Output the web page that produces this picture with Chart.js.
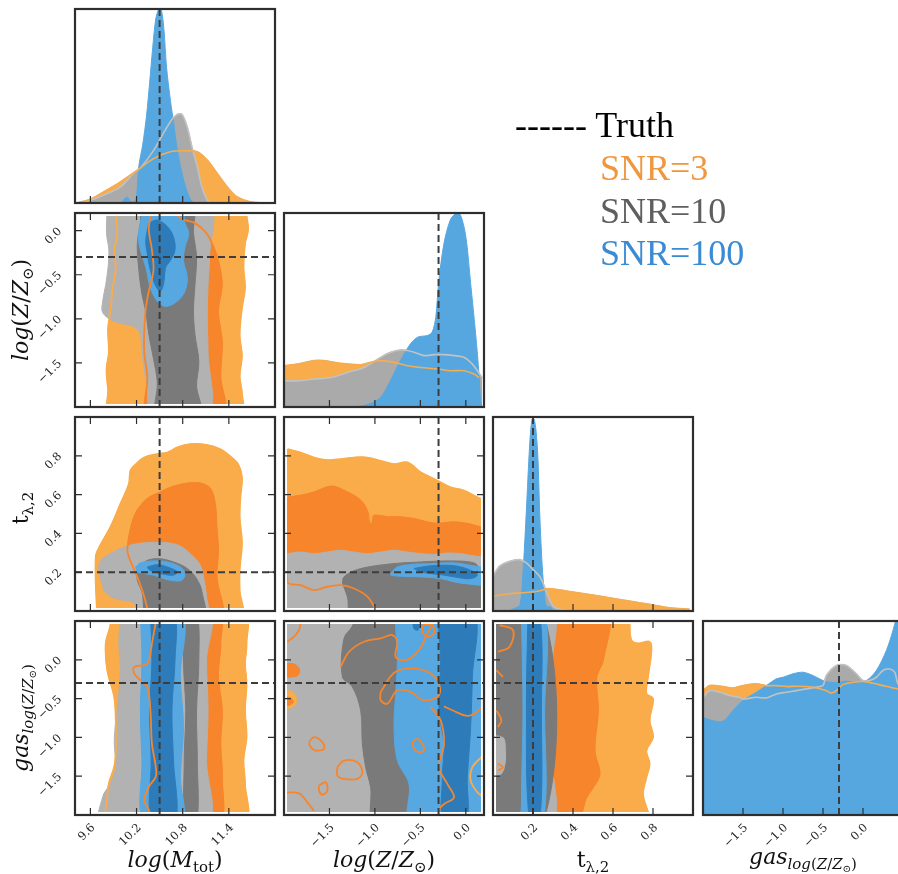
<!DOCTYPE html>
<html>
<head>
<meta charset="utf-8">
<script src="https://cdn.jsdelivr.net/npm/chart.js@4/dist/chart.umd.min.js"></script>
<style>
  html, body { margin: 0; padding: 0; background: #fff; overflow: hidden; width: 898px; height: 874px; }
  #stage { position: relative; width: 898px; height: 874px; overflow: hidden; }
  #stage canvas { position: absolute; left: 0; top: 0; }
  .ttl { position: absolute; font-family: "DejaVu Serif", serif; font-size: 22px; line-height: 1; white-space: nowrap; color: #111; }
  .ttl i { font-style: italic; }
  .ttl .sb { font-size: 0.68em; position: relative; top: 0.34em; }
  .ttl .sb .sb { top: 0.25em; }
  .leg { position: absolute; font-family: "Liberation Serif", serif; font-size: 36px; line-height: 1; white-space: nowrap; }
</style>
</head>
<body>
<div id="stage"></div>
<script>
// ---- parameters, axis ranges, ticks and true values ----
const massRange  = [9.4, 12.0];
const metalRange = [-2.0, 0.2];
const timeRange  = [0.0, 1.0];
const gasRange   = [-2.0, 0.5];

const massTicks  = [9.6, 10.2, 10.8, 11.4];
const metalTicks = [-1.5, -1.0, -0.5, 0.0];
const timeTicks  = [0.2, 0.4, 0.6, 0.8];
const gasTicks   = [-1.5, -1.0, -0.5, 0.0];

const truthMass = 10.5, truthMetal = -0.3, truthTime = 0.2, truthGas = -0.3;

const seriesNames  = ['SNR=3', 'SNR=10', 'SNR=100'];
const seriesColors = ['#f0963c', '#5f5f5f', '#3a8bd3'];
const truthLabel   = '------ Truth';

// ---- 1D marginal densities (scaled so the tallest peak is 1) ----
const massOrange1D = [[9.42,0],[9.60,0.02],[9.77,0.057],[9.99,0.109],[10.21,0.169],[10.42,0.229],[10.64,0.264],[10.82,0.269],[10.99,0.264],[11.12,0.221],[11.25,0.152],[11.38,0.083],[11.51,0.031],[11.69,0.005],[11.95,0]];
const massGrey1D   = [[9.47,0],[9.60,0.014],[9.77,0.04],[9.99,0.083],[10.16,0.152],[10.25,0.18],[10.42,0.27],[10.55,0.36],[10.66,0.43],[10.73,0.457],[10.79,0.457],[10.86,0.39],[10.92,0.29],[10.99,0.186],[11.05,0.083],[11.12,0.014],[11.16,0]];
const massBlue1D   = [[10.0,0],[10.04,0.02],[10.08,0.03],[10.12,0.01],[10.18,0.01],[10.20,0.03],[10.23,0.19],[10.28,0.30],[10.33,0.45],[10.37,0.62],[10.41,0.80],[10.45,0.95],[10.49,1.0],[10.52,1.0],[10.555,0.90],[10.59,0.70],[10.64,0.53],[10.68,0.42],[10.72,0.30],[10.77,0.19],[10.84,0.08],[10.90,0.02],[10.95,0]];

const metalOrange1D = [[-2.0,0.213],[-1.853,0.221],[-1.67,0.239],[-1.56,0.239],[-1.377,0.225],[-1.157,0.218],[-1.047,0.23],[-0.937,0.239],[-0.79,0.23],[-0.643,0.213],[-0.497,0.204],[-0.313,0.196],[-0.167,0.187],[-0.02,0.187],[0.09,0.17],[0.145,0.152]];
const metalGrey1D   = [[-2.0,0.135],[-1.853,0.135],[-1.67,0.144],[-1.487,0.152],[-1.303,0.178],[-1.12,0.204],[-0.937,0.256],[-0.827,0.282],[-0.717,0.294],[-0.643,0.291],[-0.57,0.282],[-0.46,0.265],[-0.35,0.27],[-0.24,0.27],[-0.13,0.265],[-0.02,0.256],[0.072,0.221],[0.127,0.187],[0.18,0.15]];
const metalBlue1D   = [[-1.27,0],[-1.1,0.01],[-0.94,0.048],[-0.83,0.135],[-0.72,0.239],[-0.61,0.325],[-0.53,0.36],[-0.42,0.369],[-0.37,0.386],[-0.33,0.464],[-0.30,0.637],[-0.24,0.844],[-0.17,0.965],[-0.11,0.997],[-0.06,0.991],[0.0,0.879],[0.053,0.637],[0.108,0.377],[0.145,0.17],[0.163,0.031],[0.18,0]];

const timeOrange1D = [[0,0.077],[0.083,0.089],[0.15,0.094],[0.233,0.103],[0.275,0.116],[0.367,0.103],[0.483,0.085],[0.583,0.068],[0.683,0.051],[0.783,0.034],[0.883,0.017],[0.983,0.009]];
const timeGrey1D   = [[0,0.179],[0.033,0.231],[0.083,0.256],[0.133,0.265],[0.167,0.248],[0.2,0.214],[0.233,0.179],[0.25,0.145],[0.275,0.077],[0.3,0.026],[0.333,0.009],[0.4,0.003],[0.483,0]];
const timeBlue1D   = [[0.08,0],[0.11,0.015],[0.135,0.03],[0.15,0.2],[0.167,0.52],[0.183,0.85],[0.195,0.99],[0.205,0.99],[0.215,0.93],[0.225,0.78],[0.233,0.52],[0.24,0.35],[0.248,0.2],[0.258,0.077],[0.267,0.026],[0.29,0.02],[0.30,0]];

const gasOrange1D = [[-2.0,0.641],[-1.917,0.667],[-1.75,0.662],[-1.625,0.655],[-1.5,0.667],[-1.333,0.676],[-1.208,0.667],[-1.083,0.667],[-0.958,0.662],[-0.833,0.664],[-0.708,0.662],[-0.583,0.655],[-0.458,0.641],[-0.396,0.628],[-0.333,0.641],[-0.25,0.672],[-0.125,0.684],[0.0,0.688],[0.125,0.679],[0.25,0.667],[0.375,0.655],[0.5,0.645]];
const gasGrey1D   = [[-2.0,0.607],[-1.917,0.641],[-1.792,0.633],[-1.667,0.616],[-1.542,0.607],[-1.5,0.598],[-1.333,0.607],[-1.208,0.603],[-1.083,0.624],[-0.958,0.633],[-0.833,0.641],[-0.708,0.65],[-0.583,0.659],[-0.5,0.667],[-0.458,0.719],[-0.333,0.771],[-0.208,0.771],[-0.083,0.728],[0.0,0.693],[0.083,0.693],[0.167,0.71],[0.25,0.745],[0.333,0.753],[0.396,0.736],[0.4375,0.676],[0.5,0.66]];
const gasBlue1D   = [[-2.0,0.503],[-1.875,0.486],[-1.75,0.483],[-1.625,0.538],[-1.5,0.59],[-1.333,0.633],[-1.208,0.667],[-1.083,0.702],[-1.0,0.71],[-0.875,0.728],[-0.75,0.736],[-0.625,0.719],[-0.5,0.693],[-0.417,0.684],[-0.292,0.684],[-0.208,0.69],[-0.083,0.684],[0.042,0.693],[0.167,0.745],[0.292,0.848],[0.375,0.952],[0.4375,1.055],[0.5,1.2]];

// ---- 2D credible regions (outer = 2 sigma, inner = 1 sigma) ----
// log(Z/Zsun) vs log(Mtot)
const mzOrange2 = [[9.93,0.3],[9.93,0.18],[9.95,-0.03],[9.91,-0.22],[9.93,-0.415],[9.89,-0.65],[9.86,-0.915],[9.83,-1.11],[9.84,-1.38],[9.81,-1.57],[9.83,-1.80],[9.86,-2.1],[11.55,-2.1],[11.57,-1.84],[11.54,-1.65],[11.57,-1.42],[11.54,-1.18],[11.57,-0.88],[11.61,-0.65],[11.59,-0.415],[11.61,-0.146],[11.65,0.008],[11.63,0.18],[11.63,0.3]];
const mzOrange1 = [[10.38,0.3],[10.70,0.3],[10.72,0.18],[10.83,0.12],[10.96,0.085],[11.11,-0.03],[11.20,-0.185],[11.26,-0.34],[11.31,-0.61],[11.26,-0.915],[11.31,-1.26],[11.29,-1.65],[11.32,-2.1],[10.36,-2.1],[10.34,-1.65],[10.30,-1.38],[10.30,-1.15],[10.32,-0.88],[10.36,-0.685],[10.42,-0.45],[10.40,-0.22],[10.36,0.008],[10.38,0.18]];
const mzGrey2   = [[9.82,0.3],[11.13,0.3],[11.15,-0.30],[11.13,-0.61],[11.12,-0.99],[11.13,-1.38],[11.13,-2.1],[10.40,-2.1],[10.34,-1.80],[10.27,-1.38],[10.25,-1.18],[10.17,-1.09],[9.91,-1.03],[9.76,-0.93],[9.76,-0.80],[9.80,-0.61],[9.83,-0.415],[9.84,-0.22],[9.81,-0.03]];
const mzGrey1   = [[10.25,0.3],[10.92,0.3],[10.94,-0.03],[10.98,-0.30],[10.96,-0.61],[10.94,-0.915],[10.96,-1.18],[11.01,-1.49],[10.98,-1.76],[11.03,-2.1],[10.47,-2.1],[10.47,-1.72],[10.42,-1.45],[10.36,-1.18],[10.32,-0.915],[10.27,-0.72],[10.23,-0.45],[10.21,-0.146],[10.25,0.085]];
const mzBlue2   = [[10.30,0.3],[10.77,0.3],[10.83,0.085],[10.88,-0.03],[10.83,-0.185],[10.81,-0.34],[10.86,-0.53],[10.83,-0.685],[10.73,-0.80],[10.58,-0.86],[10.47,-0.80],[10.38,-0.65],[10.32,-0.415],[10.25,-0.22],[10.22,-0.07],[10.24,0.046]];
const mzBlue1   = [[10.36,0.085],[10.47,0.12],[10.60,0.046],[10.68,-0.07],[10.70,-0.22],[10.64,-0.34],[10.58,-0.415],[10.55,-0.61],[10.51,-0.685],[10.45,-0.63],[10.38,-0.45],[10.34,-0.26],[10.32,-0.11]];

// t_lambda,2 vs log(Mtot)
const mtOrange2 = [[9.69,-0.05],[9.67,0.279],[9.74,0.347],[9.86,0.432],[9.99,0.552],[10.10,0.655],[10.12,0.723],[10.17,0.749],[10.30,0.791],[10.47,0.809],[10.60,0.817],[10.73,0.843],[10.90,0.86],[11.11,0.856],[11.29,0.834],[11.41,0.80],[11.52,0.757],[11.57,0.689],[11.55,0.586],[11.54,0.484],[11.57,0.35],[11.54,0.21],[11.54,0.108],[11.55,-0.05]];
const mtOrange1 = [[10.38,-0.05],[10.30,0.074],[10.21,0.176],[10.10,0.279],[10.08,0.321],[10.14,0.45],[10.21,0.518],[10.34,0.578],[10.51,0.612],[10.68,0.641],[10.86,0.658],[11.03,0.658],[11.16,0.629],[11.22,0.552],[11.24,0.432],[11.26,0.313],[11.24,0.176],[11.29,-0.05]];
const mtGrey2   = [[9.78,0.099],[9.71,0.21],[9.74,0.262],[9.86,0.296],[10.04,0.33],[10.21,0.347],[10.42,0.354],[10.64,0.35],[10.79,0.33],[10.92,0.287],[11.03,0.236],[11.08,0.159],[11.11,0.074],[11.12,-0.05],[10.25,-0.05],[10.17,0.039],[9.91,0.065]];
const mtGrey1   = [[10.21,0.21],[10.30,0.253],[10.47,0.27],[10.68,0.253],[10.86,0.219],[10.98,0.167],[11.05,0.099],[11.07,-0.05],[10.36,-0.05],[10.27,0.099],[10.21,0.159]];
const mtBlue2   = [[10.19,0.227],[10.25,0.248],[10.42,0.258],[10.60,0.253],[10.77,0.227],[10.83,0.193],[10.79,0.159],[10.68,0.156],[10.55,0.167],[10.42,0.185],[10.30,0.193],[10.21,0.202]];
const mtBlue1   = [[10.34,0.227],[10.47,0.239],[10.60,0.227],[10.73,0.202],[10.68,0.185],[10.55,0.19],[10.42,0.202],[10.36,0.214]];

// gas log(Z/Zsun) vs log(Mtot)
const mgOrange2 = [[9.86,0.6],[9.86,0.444],[9.80,0.208],[9.82,-0.135],[9.91,-0.478],[9.93,-0.778],[9.93,-1.164],[9.91,-1.378],[9.84,-1.593],[9.82,-1.764],[9.84,-2.1],[11.59,-2.1],[11.61,-1.593],[11.59,-1.292],[11.63,-0.992],[11.61,-0.649],[11.63,-0.306],[11.61,-0.049],[11.63,0.208],[11.59,0.6]];
const mgOrange1 = [[10.47,0.6],[10.40,0.208],[10.34,-0.049],[10.17,-0.092],[10.17,-0.178],[10.25,-0.263],[10.34,-0.349],[10.38,-0.649],[10.40,-1.078],[10.45,-1.378],[10.45,-1.507],[10.36,-1.636],[10.30,-1.807],[10.34,-1.893],[10.47,-2.1],[11.26,-2.1],[11.31,-1.507],[11.29,-1.078],[11.31,-0.649],[11.26,-0.22],[11.29,0.208],[11.26,0.6]];
const mgGrey2   = [[9.99,0.6],[9.97,0.208],[9.99,-0.092],[9.97,-0.435],[9.93,-0.778],[9.91,-1.078],[9.93,-1.378],[9.86,-1.593],[9.76,-1.764],[9.74,-2.1],[11.11,-2.1],[11.11,-1.292],[11.13,-0.649],[11.11,-0.006],[11.13,0.6]];
const mgGrey1   = [[10.83,0.6],[10.81,-0.006],[10.84,-0.649],[10.82,-1.292],[10.84,-2.1],[10.98,-2.1],[10.99,-1.292],[10.98,-0.649],[11.01,-0.006],[10.98,0.6]];
const mgBlue2   = [[10.25,0.6],[10.27,-0.006],[10.25,-0.649],[10.27,-1.292],[10.30,-2.1],[10.79,-2.1],[10.77,-1.507],[10.81,-0.864],[10.77,-0.22],[10.79,0.6]];
const mgBlue1   = [[10.38,0.6],[10.40,-0.006],[10.37,-0.649],[10.39,-1.292],[10.40,-2.1],[10.70,-2.1],[10.68,-1.292],[10.66,-0.649],[10.70,-0.006],[10.68,0.6]];

// t_lambda,2 vs log(Z/Zsun)
const ztOrange2 = [[-1.96,0.834],[-1.817,0.817],[-1.67,0.791],[-1.523,0.778],[-1.377,0.783],[-1.23,0.791],[-1.083,0.791],[-0.937,0.774],[-0.79,0.757],[-0.643,0.766],[-0.497,0.715],[-0.387,0.689],[-0.277,0.663],[-0.167,0.638],[-0.02,0.621],[0.09,0.595],[0.17,0.578],[0.3,0.57],[0.3,-0.05],[-1.96,-0.05]];
const ztOrange1 = [[-1.96,0.586],[-1.817,0.595],[-1.67,0.612],[-1.523,0.638],[-1.45,0.641],[-1.303,0.612],[-1.157,0.569],[-1.08,0.51],[-1.065,0.46],[-1.04,0.445],[-1.02,0.47],[-1.01,0.492],[-0.863,0.484],[-0.717,0.484],[-0.57,0.475],[-0.423,0.458],[-0.313,0.45],[-0.13,0.458],[0.017,0.45],[0.17,0.432],[0.3,0.43],[0.3,-0.05],[-0.95,-0.05],[-1.01,0.022],[-1.083,0.074],[-1.23,0.116],[-1.377,0.133],[-1.523,0.125],[-1.67,0.108],[-1.817,0.133],[-1.96,0.15]];
const ztGrey2   = [[-1.96,0.296],[-1.817,0.304],[-1.67,0.296],[-1.523,0.304],[-1.377,0.313],[-1.23,0.304],[-1.083,0.296],[-0.937,0.304],[-0.79,0.313],[-0.643,0.304],[-0.497,0.296],[-0.35,0.292],[-0.203,0.299],[-0.057,0.296],[0.053,0.287],[0.17,0.279],[0.3,0.279],[0.3,-0.05],[-1.96,-0.05]];
const ztGrey1   = [[-1.358,0.142],[-1.34,0.176],[-1.193,0.214],[-0.863,0.241],[-0.497,0.253],[-0.13,0.258],[0.09,0.248],[0.17,0.219],[0.3,0.21],[0.3,-0.05],[-1.24,-0.05],[-1.303,0.074]];
const ztBlue2   = [[-0.827,0.193],[-0.753,0.227],[-0.57,0.241],[-0.387,0.244],[-0.13,0.248],[0.053,0.236],[0.17,0.227],[0.3,0.227],[0.3,0.133],[0.17,0.133],[-0.02,0.142],[-0.13,0.15],[-0.277,0.167],[-0.497,0.176],[-0.717,0.179],[-0.827,0.185]];
const ztBlue1   = [[-0.57,0.219],[-0.423,0.231],[-0.24,0.236],[-0.093,0.231],[0.053,0.21],[0.127,0.185],[0.053,0.167],[-0.093,0.173],[-0.24,0.185],[-0.387,0.193],[-0.497,0.202]];

// gas log(Z/Zsun) vs log(Z/Zsun)
const zgGrey2 = [[-2.1,0.6],[0.3,0.6],[0.3,-2.1],[-2.1,-2.1]];
const zgGrey1 = [[-1.2,0.6],[-0.72,0.6],[-0.72,-0.005],[-0.72,-0.436],[-0.74,-0.867],[-0.70,-1.298],[-0.57,-1.6],[-0.55,-2.1],[-1.01,-2.1],[-1.047,-1.643],[-1.102,-1.384],[-1.138,-1.083],[-1.157,-0.651],[-1.248,-0.349],[-1.358,-0.22],[-1.34,0.276],[-1.25,0.43]];
const zgBlue2 = [[-0.772,0.6],[0.15,0.6],[0.15,-2.1],[-0.607,-2.1],[-0.625,-1.6],[-0.753,-1.298],[-0.79,-0.867],[-0.772,-0.436],[-0.753,-0.005],[-0.772,0.427]];
const zgBlue1 = [[-0.313,0.6],[0.09,0.6],[0.072,-0.22],[0.053,-0.867],[0.017,-1.514],[-0.002,-2.1],[-0.24,-2.1],[-0.258,-1.514],[-0.24,-1.083],[-0.295,-0.651],[-0.277,-0.005]];
const zgBlue1b = [[-0.588,0.6],[-0.5,0.6],[-0.52,0.39],[-0.57,0.40]];
const zgOrangeIslandLight = [[-2.05,-0.38],[-1.90,-0.42],[-1.86,-0.53],[-1.93,-0.62],[-2.05,-0.60]];
const zgOrangeIslandDark  = [[-2.05,-0.06],[-1.90,-0.05],[-1.83,-0.12],[-1.86,-0.21],[-2.05,-0.20]];
const zgOrangeIslandDark2 = [[-2.05,-0.47],[-1.93,-0.49],[-1.90,-0.55],[-1.96,-0.59],[-2.05,-0.57]];
const zgOrangeOpen = [
  [[-1.963,0.233],[-1.89,0.297],[-1.835,0.384],[-1.817,0.47]],
  [[-1.377,-0.091],[-1.285,0.103],[-1.12,0.233],[-0.937,0.276],[-0.808,0.319],[-0.753,0.233],[-0.772,0.039],[-0.662,-0.005],[-0.515,0.125],[-0.423,0.34],[-0.368,0.448]],
  [[-0.387,-0.608],[-0.277,-0.781],[-0.24,-1.083],[-0.295,-1.384],[-0.203,-1.6],[-0.13,-1.772],[-0.24,-1.859],[-0.313,-1.945]],
  [[-1.98,-1.708],[-1.835,-1.721],[-1.743,-1.837],[-1.67,-1.945]],
  [[-0.24,-0.6],[-0.13,-0.66],[0.0,-0.72],[0.09,-0.7],[0.17,-0.62]]
];
const zgPaleOpen = [[0.17,-1.255],[0.072,-1.384],[0.053,-1.557],[0.127,-1.708],[0.17,-1.75]];
const zgOrangeLoops = [
  [[-0.937,-0.414],[-0.772,-0.155],[-0.497,-0.124],[-0.313,-0.263],[-0.295,-0.457],[-0.46,-0.522],[-0.607,-0.414],[-0.753,-0.393],[-0.863,-0.565],[-0.937,-0.522]],
  [[-1.725,-1.061],[-1.67,-0.996],[-1.578,-1.061],[-1.56,-1.147],[-1.652,-1.169],[-1.707,-1.126]],
  [[-1.413,-1.384],[-1.34,-1.298],[-1.193,-1.32],[-1.138,-1.449],[-1.193,-1.535],[-1.34,-1.535],[-1.413,-1.492]],
  [[-1.615,-1.622],[-1.542,-1.578],[-1.523,-1.686],[-1.578,-1.738],[-1.615,-1.686]],
  [[-0.588,-1.061],[-0.533,-1.018],[-0.478,-1.083],[-0.46,-1.169],[-0.515,-1.19],[-0.57,-1.147]],
  [[-0.478,0.448],[-0.368,0.448],[-0.35,0.34],[-0.423,0.297],[-0.478,0.362]]
];

// gas log(Z/Zsun) vs t_lambda,2
const tgOrange2 = [[-0.1,0.6],[0.683,0.6],[0.683,0.448],[0.692,0.254],[0.725,0.211],[0.783,0.233],[0.792,0.125],[0.775,-0.22],[0.767,-0.436],[0.8,-0.5],[0.783,-0.781],[0.8,-0.996],[0.767,-1.169],[0.783,-1.341],[0.767,-1.514],[0.75,-1.729],[0.767,-2.1],[-0.1,-2.1]];
const tgOrange1 = [[-0.1,0.6],[0.558,0.6],[0.55,-0.005],[0.517,-0.22],[0.525,-0.651],[0.508,-1.169],[0.533,-1.471],[0.5,-1.643],[0.467,-1.772],[0.408,-2.1],[-0.1,-2.1]];
const tgGrey2   = [[-0.1,0.6],[0.292,0.6],[0.298,0.0],[0.29,-0.65],[0.295,-1.3],[0.29,-2.1],[-0.1,-2.1]];
const tgGrey1   = [[-0.1,0.6],[0.25,0.6],[0.25,-2.1],[-0.1,-2.1],[-0.1,-1.52],[0.03,-1.50],[0.06,-1.40],[0.067,-1.17],[0.05,-0.99],[-0.1,-0.91]];
const tgBlue2   = [[0.142,0.6],[0.258,0.6],[0.258,-0.651],[0.25,-2.1],[0.15,-2.1],[0.142,-1.86],[0.15,-0.651]];
const tgBlue1   = [[0.175,0.6],[0.233,0.6],[0.242,-0.651],[0.233,-2.1],[0.183,-2.1],[0.167,-0.651]];
const tgOrangeOpen = [
  [[0.033,0.448],[0.1,0.384],[0.083,0.168],[0.025,0.103]],
  [[0.017,-0.134],[0.05,-0.22]],
  [[0.017,-0.651],[0.042,-0.781],[0.025,-0.867]],
  [[0.025,-1.341],[0.05,-1.384],[0.025,-1.427]]
];

// ---- styling ----
const C = {
  o2: '#faac4a', o1: '#f7852c', g2: '#b2b2b2', g1: '#7a7a7a', b2: '#57a8e1', b1: '#2e7bba',
  oHist: '#f9ac4b', gHist: '#aaaaaa', bHist: '#56a7e0', oTrace: '#f4ad52', gTrace: '#c2c2c2',
  truth: '#3d3d3d', frame: '#2e2e2e', tickText: '#222222'
};

const ranges   = [massRange, metalRange, timeRange, gasRange];
const tickSets = [massTicks, metalTicks, timeTicks, gasTicks];
const truths   = [truthMass, truthMetal, truthTime, truthGas];

// panel grid in page pixels
const colLeft = [75, 284, 493, 703];
const rowTop  = [9, 213, 417, 621];
const PW = 200, PH = 194;
const CW = 910, CH = 874;

const pts = arr => arr.map(([x, y]) => ({x, y}));
const closed = arr => arr.concat([arr[0]]);

function area(arr, color) {
  return {data: pts(closed(arr)), showLine: true, fill: 'shape', backgroundColor: color, borderColor: color,
          borderWidth: 1, pointRadius: 0, tension: 0.35};
}
function edge(arr, color, isClosed = true, width = 1.8) {
  return {data: pts(isClosed ? closed(arr) : arr), showLine: true, fill: false, borderColor: color,
          backgroundColor: color, borderWidth: width, pointRadius: 0, tension: 0.35};
}
function curve(arr, color) {
  return {data: pts(arr), showLine: true, fill: 'origin', backgroundColor: color, borderColor: color,
          borderWidth: 1, pointRadius: 0, tension: 0.3};
}
function trace(arr, color) {
  return {data: pts(arr), showLine: true, fill: false, borderColor: color, borderWidth: 1.6,
          pointRadius: 0, tension: 0.3};
}

const fmt = v => (v < 0 ? '\u2212' : '') + Math.abs(v).toFixed(1);

function framePlugin(r, c, diag) {
  return {
    id: 'panelFrame',
    afterDatasetsDraw(chart) {
      const {ctx, chartArea: a, scales: {x, y}} = chart;
      const w = a.right - a.left, h = a.bottom - a.top;
      ctx.save();
      if (!diag) {
        const m = 3;
        ctx.fillStyle = '#ffffff';
        ctx.fillRect(a.left, a.top, w, m);
        ctx.fillRect(a.left, a.bottom - m, w, m);
        ctx.fillRect(a.left, a.top, m, h);
        ctx.fillRect(a.right - m, a.top, m, h);
      }
      // true parameter values
      ctx.strokeStyle = C.truth; ctx.lineWidth = 2; ctx.setLineDash([7, 4]);
      ctx.beginPath();
      const tx = x.getPixelForValue(truths[c]);
      ctx.moveTo(tx, a.top); ctx.lineTo(tx, a.bottom);
      if (!diag) {
        const ty = y.getPixelForValue(truths[r]);
        ctx.moveTo(a.left, ty); ctx.lineTo(a.right, ty);
      }
      ctx.stroke();
      ctx.setLineDash([]);
      // inward tick marks
      const TL = 7;
      ctx.strokeStyle = C.frame; ctx.lineWidth = 1.2;
      ctx.beginPath();
      tickSets[c].forEach(v => {
        const px = x.getPixelForValue(v);
        ctx.moveTo(px, a.bottom); ctx.lineTo(px, a.bottom - TL);
        if (!diag) { ctx.moveTo(px, a.top); ctx.lineTo(px, a.top + TL); }
      });
      if (!diag) {
        tickSets[r].forEach(v => {
          const py = y.getPixelForValue(v);
          ctx.moveTo(a.left, py); ctx.lineTo(a.left + TL, py);
          ctx.moveTo(a.right, py); ctx.lineTo(a.right - TL, py);
        });
      }
      ctx.stroke();
      // frame
      ctx.lineWidth = 2.2;
      ctx.strokeRect(a.left, a.top, w, h);
      // tick labels
      ctx.fillStyle = C.tickText;
      ctx.font = '11.5px "DejaVu Serif"';
      ctx.textAlign = 'right';
      ctx.textBaseline = 'middle';
      if (r === 3) {
        tickSets[c].forEach(v => {
          const px = x.getPixelForValue(v);
          ctx.save(); ctx.translate(px + 3, a.bottom + 11); ctx.rotate(-Math.PI / 4);
          ctx.fillText(fmt(v), 0, 0); ctx.restore();
        });
      }
      if (c === 0 && r > 0) {
        tickSets[r].forEach(v => {
          const py = y.getPixelForValue(v);
          ctx.save(); ctx.translate(a.left - 15, py - 1); ctx.rotate(-Math.PI / 4);
          ctx.fillText(fmt(v), 0, 0); ctx.restore();
        });
      }
      ctx.restore();
    }
  };
}

const stage = document.getElementById('stage');

function makePanel(r, c, datasets) {
  const diag = r === c;
  const cv = document.createElement('canvas');
  cv.width = CW; cv.height = CH;
  cv.style.width = CW + 'px'; cv.style.height = CH + 'px';
  stage.appendChild(cv);
  const L = colLeft[c], T = rowTop[r];
  // later entries paint on top
  datasets.forEach((d, i) => { d.order = datasets.length - i; });
  return new Chart(cv.getContext('2d'), {
    type: 'scatter',
    data: {datasets},
    options: {
      responsive: false, maintainAspectRatio: false, animation: false, devicePixelRatio: 1, events: [],
      layout: {padding: {left: L, top: T, right: CW - L - PW, bottom: CH - T - PH}},
      scales: {
        x: {type: 'linear', display: false, min: ranges[c][0], max: ranges[c][1]},
        y: {type: 'linear', display: false, min: diag ? 0 : ranges[r][0], max: diag ? 1 : ranges[r][1]}
      },
      plugins: {legend: {display: false}, tooltip: {enabled: false}}
    },
    plugins: [framePlugin(r, c, diag)]
  });
}

function marginal(i, orange, grey, blue) {
  makePanel(i, i, [
    curve(orange, C.oHist), curve(grey, C.gHist), curve(blue, C.bHist),
    trace(grey, C.gTrace), trace(orange, C.oTrace)
  ]);
}

function joint(r, c, s, extraBelow = [], extraAbove = []) {
  const sets = [];
  if (s.o2) sets.push(area(s.o2, C.o2));
  if (s.o1) sets.push(area(s.o1, C.o1));
  sets.push(area(s.g2, C.g2), area(s.g1, C.g1));
  sets.push(...extraBelow);
  sets.push(area(s.b2, C.b2), area(s.b1, C.b1));
  if (s.o2) sets.push(edge(s.o2, C.o2));
  if (s.o1) sets.push(edge(s.o1, C.o1));
  sets.push(...extraAbove);
  makePanel(r, c, sets);
}

// diagonal
marginal(0, massOrange1D, massGrey1D, massBlue1D);
marginal(1, metalOrange1D, metalGrey1D, metalBlue1D);
marginal(2, timeOrange1D, timeGrey1D, timeBlue1D);
marginal(3, gasOrange1D, gasGrey1D, gasBlue1D);

// lower triangle
joint(1, 0, {o2: mzOrange2, o1: mzOrange1, g2: mzGrey2, g1: mzGrey1, b2: mzBlue2, b1: mzBlue1});
joint(2, 0, {o2: mtOrange2, o1: mtOrange1, g2: mtGrey2, g1: mtGrey1, b2: mtBlue2, b1: mtBlue1});
joint(3, 0, {o2: mgOrange2, o1: mgOrange1, g2: mgGrey2, g1: mgGrey1, b2: mgBlue2, b1: mgBlue1});
joint(2, 1, {o2: ztOrange2, o1: ztOrange1, g2: ztGrey2, g1: ztGrey1, b2: ztBlue2, b1: ztBlue1});
joint(3, 1, {g2: zgGrey2, g1: zgGrey1, b2: zgBlue2, b1: zgBlue1},
  [area(zgOrangeIslandLight, C.o2), area(zgOrangeIslandDark, C.o1), area(zgOrangeIslandDark2, C.o1)],
  [area(zgBlue1b, C.b1), edge(zgPaleOpen, C.o2, false)]
    .concat(zgOrangeLoops.map(l => edge(l, C.o1, true)))
    .concat(zgOrangeOpen.map(l => edge(l, C.o1, false))));
joint(3, 2, {o2: tgOrange2, o1: tgOrange1, g2: tgGrey2, g1: tgGrey1, b2: tgBlue2, b1: tgBlue1},
  [], tgOrangeOpen.map(l => edge(l, C.o1, false)));

// ---- axis titles ----
const Zsun = '<i>Z</i><span class="sb">\u2299</span>';
const logZ = '<i>log</i>(<i>Z</i>/' + Zsun + ')';
const axisTitles = [
  '<i>log</i>(<i>M</i><span class="sb">tot</span>)',
  logZ,
  't<span class="sb">\u03bb,2</span>',
  '<i>gas</i><span class="sb"><i>log</i>(<i>Z</i>/<i>Z</i><span class="sb">\u2299</span>)</span>'
];
const bottomTop  = [849, 849, 849, 846];
const sideCenter = [0, 310, 508, 718];
axisTitles.forEach((html, i) => {
  const d = document.createElement('div');
  d.className = 'ttl';
  d.innerHTML = html;
  d.style.left = (colLeft[i] + PW / 2) + 'px';
  d.style.top = bottomTop[i] + 'px';
  d.style.transform = 'translateX(-50%)';
  stage.appendChild(d);
  if (i > 0) {
    const s = document.createElement('div');
    s.className = 'ttl';
    s.innerHTML = html;
    s.style.left = '21px';
    s.style.top = sideCenter[i] + 'px';
    s.style.transform = 'translate(-50%, -50%) rotate(-90deg)';
    stage.appendChild(s);
  }
});

// ---- legend ----
const legTop = [150, 193, 235];
const t = document.createElement('div');
t.className = 'leg'; t.style.left = '515px'; t.style.top = '107px'; t.style.color = '#000';
t.textContent = truthLabel;
stage.appendChild(t);
seriesNames.forEach((name, i) => {
  const d = document.createElement('div');
  d.className = 'leg'; d.style.left = '600px'; d.style.top = legTop[i] + 'px'; d.style.color = seriesColors[i];
  d.textContent = name;
  stage.appendChild(d);
});
</script>
</body>
</html>
